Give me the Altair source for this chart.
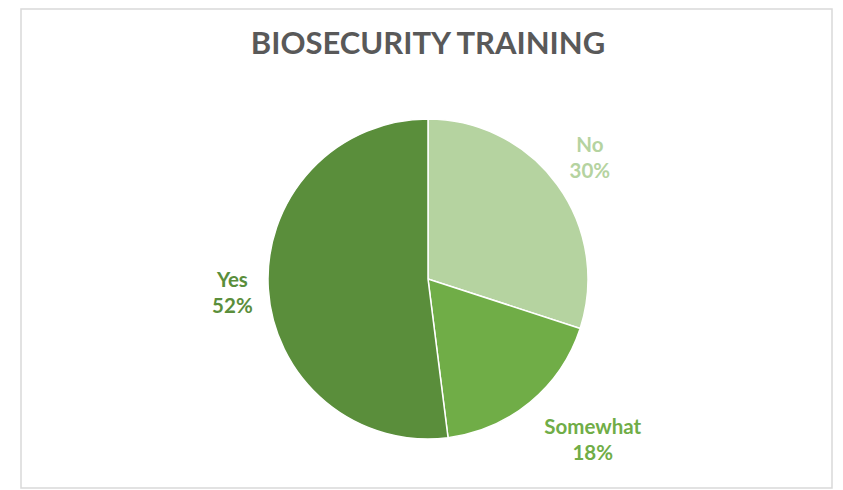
import json
import altair as alt
import pandas as pd

categories = ["No", "Somewhat", "Yes"]
values = [30, 18, 52]
colors = ["#B5D3A0", "#70AD47", "#5A8E3B"]
title_text = "BIOSECURITY TRAINING"

df = pd.DataFrame({"category": categories, "value": values})
order_expr = "indexof(" + json.dumps(categories) + ", datum.category)"

color_enc = alt.Color("category:N", scale=alt.Scale(domain=categories, range=colors), legend=None)

base = alt.Chart(df).transform_calculate(
    ord=order_expr,
    label="datum.category + '\\n' + datum.value + '%'",
)

pie = base.mark_arc(outerRadius=160, stroke="white", strokeWidth=1.5).encode(
    theta=alt.Theta("value:Q", stack=True),
    order=alt.Order("ord:Q"),
    color=color_enc,
)

offsets = {"No": (-4, -13), "Somewhat": (34, -9), "Yes": (9, -11)}
labels = []
for cat in categories:
    dx, dy = offsets[cat]
    labels.append(
        base.mark_text(
            radius=205, dx=dx, dy=dy, lineBreak="\n", font="Lato", fontWeight="bold",
            fontSize=20.5, lineHeight=26, align="center", baseline="middle",
        ).encode(
            theta=alt.Theta("value:Q", stack=True),
            order=alt.Order("ord:Q"),
            color=color_enc,
            text=alt.condition(alt.datum.category == cat, "label:N", alt.value("")),
        )
    )

frame = alt.Chart(pd.DataFrame({"f": [0]})).mark_rect(
    fill="transparent", stroke="#D9D9D9", strokeWidth=1.5
).encode(
    x=alt.value(0), x2=alt.value(811), y=alt.value(-59), y2=alt.value(420)
)

chart = alt.layer(frame, pie, *labels).properties(
    width=814,
    height=422,
    padding={"left": 13, "top": 60, "right": 0, "bottom": 0},
    autosize=alt.AutoSizeParams(type="none"),
    title=alt.TitleParams(
        title_text, font="Lato", fontSize=31, fontWeight="bold", color="#595959",
        anchor="middle", offset=-53,
    ),
).configure_view(stroke=None)

chart.save("out.html", embed_options={"renderer": "svg", "actions": False})
